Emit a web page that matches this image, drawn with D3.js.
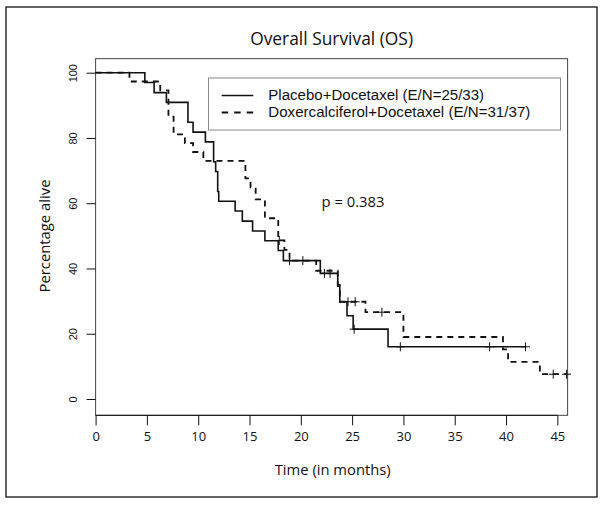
<!DOCTYPE html>
<html><head><meta charset="utf-8">
<script src="https://cdn.jsdelivr.net/npm/d3@7"></script>
<style>body{margin:0;background:#fff}svg{display:block}</style>
</head><body><svg id="c" width="604" height="505"></svg>
<script>
const title = "Overall Survival (OS)";
const xLabel = "Time (in months)";
const yLabel = "Percentage alive";
const pText = "p = 0.383";
const xTicks = [0, 5, 10, 15, 20, 25, 30, 35, 40, 45];
const yTicks = [0, 20, 40, 60, 80, 100];
const seriesNames = ["Placebo+Docetaxel (E/N=25/33)", "Doxercalciferol+Docetaxel (E/N=31/37)"];

// Placebo + Docetaxel (solid)
const placeboTimes = [4.8, 5.7, 6.9, 9.0, 9.5, 10.7, 11.5, 11.7, 11.9, 12.0, 13.6, 14.3, 15.3, 16.5, 17.8, 18.3, 21.9, 23.6, 23.8, 24.5, 25.1, 28.5];
const placeboSurv  = [97.0, 93.9, 90.9, 84.8, 81.8, 78.8, 72.7, 69.7, 63.6, 60.6, 57.6, 54.5, 51.5, 48.5, 45.5, 42.4, 38.5, 34.6, 29.8, 25.5, 21.4, 16.0];
const placeboEnd = 41.9;
const placeboCensor = [18.9, 20.2, 22.3, 22.85, 25.2, 29.7, 38.4, 41.9];

// Doxercalciferol + Docetaxel (dashed)
const doxTimes = [3.3, 6.3, 7.1, 7.6, 8.7, 9.5, 10.5, 14.6, 15.1, 15.6, 16.5, 17.8, 18.4, 18.9, 21.5, 23.6, 23.8, 26.3, 30.0, 39.7, 40.2, 43.3];
const doxSurv  = [97.3, 94.6, 86.5, 81.1, 78.4, 75.7, 73.0, 67.6, 64.9, 61.2, 55.4, 48.6, 45.7, 42.4, 39.3, 35.0, 29.8, 26.6, 19.0, 15.2, 11.4, 7.6];
const doxEnd = 45.9;
const doxCensor = [17.9, 24.6, 25.3, 27.9, 44.6, 45.9];

const svg = d3.select("#c");
const FONT = "'Open Sans', sans-serif";
const LFONT = "'Liberation Sans', Arial, sans-serif";

const x = d3.scaleLinear().domain([0, 46]).range([95.6, 567.6]);
const y = d3.scaleLinear().domain([0, 100]).range([399, 72.7]);

function fit(sel, target) {
  const w = sel.node().getComputedTextLength();
  const fs = parseFloat(sel.attr("font-size"));
  sel.attr("font-size", (fs * target / w).toFixed(2));
  return sel;
}

// outer frame
svg.append("rect").attr("x", 6).attr("y", 7).attr("width", 591).attr("height", 490)
  .attr("fill", "none").attr("stroke", "#111").attr("stroke-width", 1.3);

// plot box
const boxTop = y(104.3), boxBot = y(-5);
svg.append("rect").attr("x", x(0)).attr("y", boxTop).attr("width", x(46) - x(0)).attr("height", boxBot - boxTop)
  .attr("fill", "none").attr("stroke", "#444").attr("stroke-width", 1);

// title
fit(svg.append("text").attr("x", (x(0) + x(46)) / 2).attr("y", 45).attr("text-anchor", "middle")
  .attr("font-family", FONT).attr("font-size", 15).attr("fill", "#111").text(title), 163);

// x axis
const xAxis = d3.axisBottom(x).tickValues(xTicks).tickSize(10).tickPadding(6).tickFormat(d3.format("d"));
const gx = svg.append("g").attr("transform", `translate(0,${boxBot})`).call(xAxis);
gx.select(".domain").attr("stroke", "#111").attr("d", `M${x(0)},0H${x(45)}`);
gx.selectAll(".tick line").attr("stroke", "#111");
gx.selectAll(".tick text").attr("font-family", FONT).attr("font-size", 13).attr("fill", "#111");

// y axis
const yAxis = d3.axisLeft(y).tickValues(yTicks).tickSize(9).tickFormat(d3.format("d"));
const gy = svg.append("g").attr("transform", `translate(${x(0)},0)`).call(yAxis);
gy.select(".domain").attr("stroke", "none");
gy.selectAll(".tick line").attr("stroke", "#111");
gy.selectAll(".tick text").attr("font-family", LFONT).attr("font-size", 11)
  .attr("fill", "#111").attr("text-anchor", "middle").attr("dy", null).attr("x", null)
  .attr("transform", "translate(-19,0) rotate(-90)").attr("y", 0);

// axis titles
fit(svg.append("text").attr("x", 332.7).attr("y", 475).attr("text-anchor", "middle")
  .attr("font-family", FONT).attr("font-size", 13).attr("fill", "#111").text(xLabel), 116);
fit(svg.append("text").attr("transform", `translate(50,236) rotate(-90)`).attr("text-anchor", "middle")
  .attr("font-family", FONT).attr("font-size", 13).attr("fill", "#111").text(yLabel), 113);

// curves
const line = d3.line().x(d => x(d[0])).y(d => y(d[1])).curve(d3.curveStepAfter);
function pts(times, surv, end) {
  const p = [[0, 100]];
  times.forEach((t, i) => p.push([t, surv[i]]));
  p.push([end, surv[surv.length - 1]]);
  return p;
}
function survAt(times, surv, t) {
  let s = 100;
  times.forEach((tt, i) => { if (tt <= t) s = surv[i]; });
  return s;
}
const series = [
  {times: placeboTimes, surv: placeboSurv, end: placeboEnd, cens: placeboCensor, dash: null, w: 1.6},
  {times: doxTimes, surv: doxSurv, end: doxEnd, cens: doxCensor, dash: "6,5", w: 1.8}
];
series.forEach(s => {
  svg.append("path").attr("d", line(pts(s.times, s.surv, s.end))).attr("fill", "none")
    .attr("stroke", "#111").attr("stroke-width", s.w).attr("stroke-dasharray", s.dash);
  const g = svg.append("g");
  s.cens.forEach(c => {
    const cx = x(c), cy = y(survAt(s.times, s.surv, c));
    g.append("path").attr("d", `M${cx},${cy - 4.5}V${cy + 4.5}M${cx - 4.5},${cy}H${cx + 4.5}`)
      .attr("stroke", "#111").attr("stroke-width", 1);
  });
});

// legend
svg.append("rect").attr("x", 208.5).attr("y", 78).attr("width", 352).attr("height", 52)
  .attr("fill", "#fff").attr("stroke", "#888").attr("stroke-width", 1);
const legY = [95.5, 112.5];
const legW = [216, 262];
seriesNames.forEach((n, i) => {
  svg.append("line").attr("x1", 221.7).attr("x2", 253.3).attr("y1", legY[i]).attr("y2", legY[i])
    .attr("stroke", "#111").attr("stroke-width", series[i].w).attr("stroke-dasharray", i ? "6.5,6" : null);
  fit(svg.append("text").attr("x", 268.3).attr("y", legY[i] + 4.5).attr("font-family", LFONT)
    .attr("font-size", 13).attr("fill", "#111").text(n), legW[i]);
});

// p-value
fit(svg.append("text").attr("x", 321.5).attr("y", 207).attr("font-family", FONT)
  .attr("font-size", 13).attr("fill", "#111").text(pText), 63);
</script>
</body></html>
